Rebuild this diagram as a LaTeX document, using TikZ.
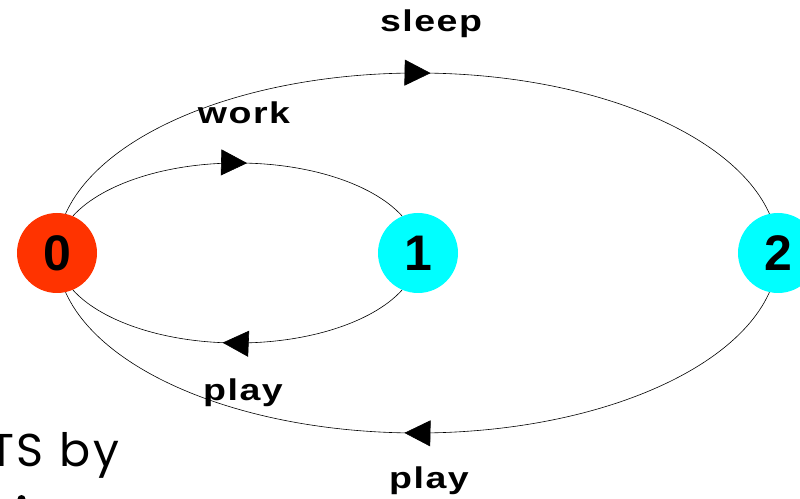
\documentclass[tikz,border=0pt]{standalone}
\usepackage{fontspec}
\setmainfont{Liberation Sans}
\newfontfamily\labfont[FakeStretch=1.25,LetterSpace=5]{Liberation Sans}
\newfontfamily\slidefont[LetterSpace=6]{Poppins}
\usetikzlibrary{arrows.meta,decorations.markings,backgrounds}
\definecolor{redzero}{RGB}{255,51,0}
\definecolor{cyanstate}{RGB}{0,255,255}
\begin{document}
\begin{tikzpicture}[x=1pt,y=1pt,
  state/.style={circle,minimum size=80pt,inner sep=0pt,font=\fontsize{50}{50}\selectfont\bfseries},
  lab/.style={anchor=base,inner sep=0pt,font=\labfont\fontsize{30}{30}\selectfont\bfseries},
  edge/.style={line width=0.6pt,black},
  tipat/.style={postaction={decorate},decoration={markings,mark=at position #1 with {\arrow{Triangle[length=26pt,width=26pt]}}}}
]
\useasboundingbox (0,0) rectangle (800,498);
\clip (0,0) rectangle (800,498);

\node[state,fill=redzero] (n0) at (57,245) {0};
\node[state,fill=cyanstate] (n1) at (418,245) {1};
\node[state,fill=cyanstate] (n2) at (778,245) {2};

\begin{scope}[on background layer]
\draw[edge,tipat=0.522] (n0.center) arc[start angle=180,end angle=0,x radius=180.5,y radius=90];
\draw[edge,tipat=0.534] (n1.center) arc[start angle=0,end angle=-180,x radius=180.5,y radius=90];
\draw[edge,tipat=0.515] (n0.center) arc[start angle=180,end angle=0,x radius=360.5,y radius=180];
\draw[edge,tipat=0.515] (n2.center) arc[start angle=0,end angle=-180,x radius=360.5,y radius=180];
\end{scope}

\node[lab] (lsleep) at (431,466) {sleep};
\node[lab] (lwork) at (244,374) {work};
\node[lab] (lplay1) at (243,98) {play};
\node[lab] (lplay2) at (429,10) {play};

\node[anchor=base west,inner sep=0pt,font=\slidefont\fontsize{46}{46}\selectfont] (cap) at (-11,32) {TS\hspace{0.35em}by};
\fill (21.5,-1) circle (4);
\end{tikzpicture}
\end{document}
